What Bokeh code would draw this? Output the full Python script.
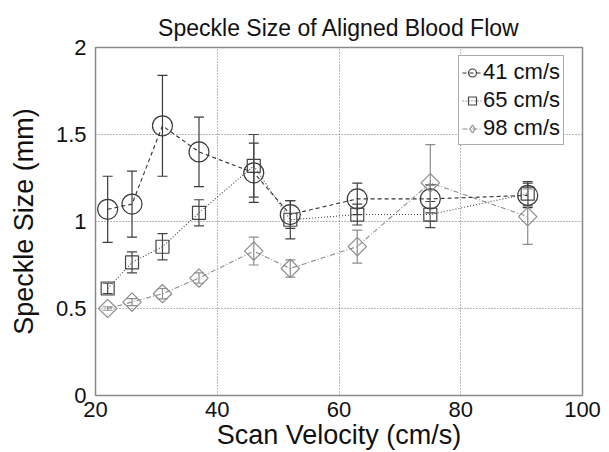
from bokeh.plotting import figure
from bokeh.models import ColumnDataSource, Whisker, TeeHead, Range1d, FixedTicker, Legend, LegendItem
from bokeh.embed import file_html
from bokeh.resources import INLINE

scan_velocity = [22, 26, 31, 37, 46, 52, 63, 75, 91]

flow41_mean = [1.07, 1.10, 1.55, 1.40, 1.28, 1.04, 1.13, 1.13, 1.15]
flow41_err = [0.19, 0.19, 0.29, 0.20, 0.17, 0.08, 0.09, 0.08, 0.07]

flow65_mean = [0.615, 0.765, 0.855, 1.05, 1.32, 1.01, 1.04, 1.04, 1.16]
flow65_err = [0.03, 0.06, 0.075, 0.075, 0.18, 0.11, 0.06, 0.075, 0.07]

flow98_mean = [0.50, 0.537, 0.585, 0.675, 0.83, 0.73, 0.856, 1.222, 1.028]
flow98_err = [0.01, 0.02, 0.03, 0.03, 0.08, 0.05, 0.095, 0.22, 0.16]

series_labels = ["41 cm/s", "65 cm/s", "98 cm/s"]
x_ticks = [20, 40, 60, 80, 100]
y_ticks = [0, 0.5, 1, 1.5, 2]
y_tick_labels = ["0", "0.5", "1", "1.5", "2"]

FONT = "Liberation Sans"

p = figure(width=609, height=452, output_backend="svg", toolbar_location=None,
           x_range=Range1d(20, 100), y_range=Range1d(0, 2),
           title="Speckle Size of Aligned Blood Flow",
           min_border_left=95, min_border_right=27, min_border_top=47, min_border_bottom=56)
p.background_fill_color = "white"
p.border_fill_color = "white"
p.outline_line_color = "#8a8a8a"
p.outline_line_width = 1.5

p.title.text_font = FONT
p.title.text_font_size = "23px"
p.title.text_font_style = "normal"
p.title.align = "center"
p.title.text_color = "#111111"
p.title.standoff = 14

for ax in (p.xaxis[0], p.yaxis[0]):
    ax.axis_line_color = None
    ax.major_tick_line_color = None
    ax.minor_tick_line_color = None
    ax.major_label_text_font = FONT
    ax.major_label_text_font_size = "22px"
    ax.major_label_text_color = "#111111"
    ax.axis_label_text_font = FONT
    ax.axis_label_text_font_size = "27px"
    ax.axis_label_text_font_style = "normal"
    ax.axis_label_text_color = "#111111"
    ax.major_label_standoff = 3

p.xaxis.ticker = FixedTicker(ticks=x_ticks)
p.yaxis.ticker = FixedTicker(ticks=y_ticks)
p.yaxis.major_label_overrides = {t: l for t, l in zip(y_ticks, y_tick_labels)}
p.xaxis.axis_label = "Scan Velocity (cm/s)"
p.yaxis.axis_label = "Speckle Size (mm)"
p.xaxis.major_label_standoff = 0
p.xaxis.axis_label_standoff = 0
p.yaxis.axis_label_standoff = 14

for g in (p.xgrid[0], p.ygrid[0]):
    g.grid_line_color = "#707070"
    g.grid_line_dash = "1 2"
    g.grid_line_width = 1

specs = [
    (flow41_mean, flow41_err, "#333333", "#3a3a3a", "4 3", "circle", 20, 0.0, "circle", 20),
    (flow65_mean, flow65_err, "#444444", "#444444", "1 2", "square", 13, 0.0, "square", 13),
    (flow98_mean, flow98_err, "#8c8c8c", "#8c8c8c", "5 2 1 2", "square", 13, 0.785398, "diamond", 20),
]

items = []
for (mean, err, lcol, mcol, dash, marker, size, ang, lmarker, lsize), label in zip(specs, series_labels):
    src = ColumnDataSource(dict(x=scan_velocity, y=mean,
                                upper=[m + e for m, e in zip(mean, err)],
                                lower=[m - e for m, e in zip(mean, err)]))
    ln = p.line("x", "y", source=src, line_color=lcol, line_dash=dash, line_width=1.1)
    w = Whisker(base="x", upper="upper", lower="lower", source=src, dimension="height",
                line_color=mcol, line_width=1.2,
                upper_head=TeeHead(size=10, line_color=mcol, line_width=1.2),
                lower_head=TeeHead(size=10, line_color=mcol, line_width=1.2))
    p.add_layout(w)
    sc = p.scatter("x", "y", source=src, marker=marker, size=size, angle=ang,
                   fill_color=None, line_color=mcol, line_width=1.2)
    leg_src = ColumnDataSource(dict(x=[float("nan")], y=[float("nan")]))
    leg_sc = p.scatter("x", "y", source=leg_src, marker=lmarker, size=lsize,
                       fill_color=None, line_color=mcol, line_width=1.2)
    items.append(LegendItem(label=label, renderers=[ln, leg_sc]))

legend = Legend(items=items, location=(363, 250))
legend.label_text_font = FONT
legend.label_text_font_size = "22px"
legend.label_text_color = "#111111"
legend.glyph_width = 20
legend.glyph_height = 25
legend.label_height = 25
legend.label_standoff = 1
legend.spacing = 2
legend.padding = 3
legend.margin = 0
legend.border_line_color = "#555555"
legend.border_line_width = 1
legend.background_fill_alpha = 1
p.add_layout(legend, "center")

open("out.html", "w").write(file_html(p, INLINE))
